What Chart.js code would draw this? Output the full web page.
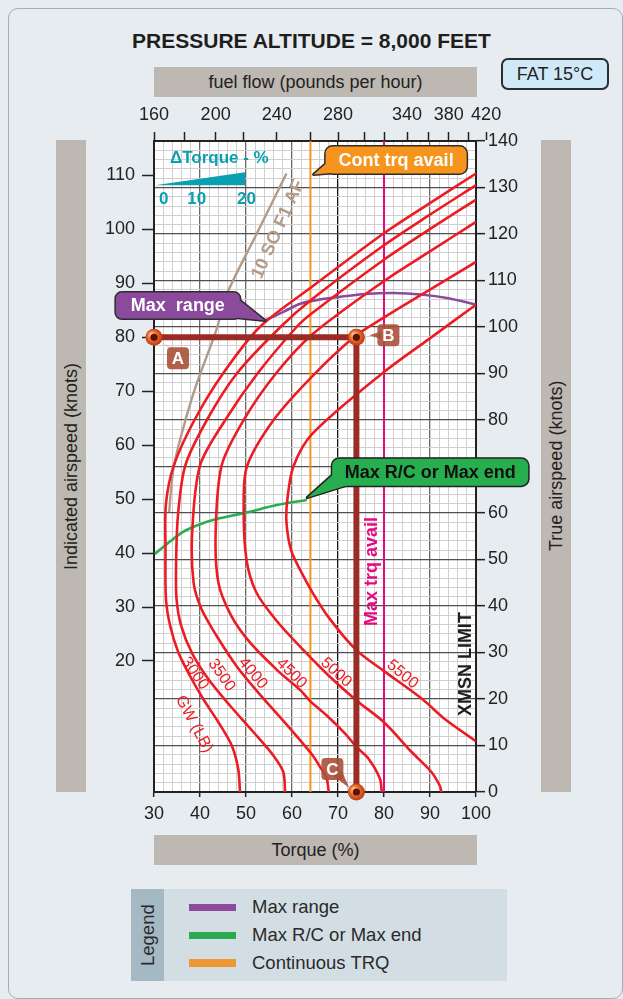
<!DOCTYPE html>
<html>
<head>
<meta charset="utf-8">
<script src="https://cdn.jsdelivr.net/npm/chart.js@4.4.1/dist/chart.umd.min.js"></script>
<style>
  html, body { margin: 0; padding: 0; }
  body { width: 623px; height: 999px; background: #e6ecf0; position: relative; overflow: hidden;
         font-family: "Liberation Sans", Arial, sans-serif; color: #222; }
  .frame { position: absolute; left: 8px; top: 8px; width: 613px; height: 989px; border: 1px solid #a3afb6; border-radius: 10px; }
  .title { position: absolute; left: 0; width: 623px; top: 29px; line-height: 24px; text-align: center; font-weight: bold; font-size: 21px; color: #1e1e1e; }
  .bar { position: absolute; background: #bdb8b1; font-size: 18px; display: flex; align-items: center; justify-content: center; color: #222; }
  .vbar { writing-mode: vertical-rl; transform: rotate(180deg); }
  .fat { position: absolute; left: 501px; top: 58px; width: 108px; height: 32px; box-sizing: border-box; border: 2px solid #2d2d2d;
         border-radius: 7px; background: #cfe9f8; font-size: 18px; display: flex; align-items: center; justify-content: center; }
  .legend { position: absolute; left: 131px; top: 889px; width: 376px; height: 92px; background: #d3dee4; }
  .lg-strip { position: absolute; left: 0; top: 0; width: 33px; height: 92px; background: #a5b9c5; display: flex; align-items: center;
              justify-content: center; writing-mode: vertical-rl; transform: rotate(180deg); font-size: 18.5px; color: #2a2a2a; }
  .lg-item { position: absolute; left: 58px; height: 20px; display: flex; align-items: center; font-size: 18.5px; color: #2a2a2a; }
  .lg-item i { display: inline-block; width: 47px; height: 7px; margin-right: 16px; }
  #chart { position: absolute; left: 0; top: 0; }
</style>
</head>
<body>
<div class="frame"></div>
<div class="title">PRESSURE ALTITUDE = 8,000 FEET</div>
<div class="bar" style="left:154px;top:67px;width:323px;height:30px;">fuel flow (pounds per hour)</div>
<div class="fat">FAT 15°C</div>
<div class="bar vbar" style="left:56px;top:140px;width:30px;height:652px;">Indicated airspeed (knots)</div>
<div class="bar vbar" style="left:541px;top:140px;width:30px;height:652px;">True airspeed (knots)</div>
<div class="bar" style="left:154px;top:835px;width:323px;height:30px;">Torque (%)</div>
<div class="legend">
  <div class="lg-strip">Legend</div>
  <div class="lg-item" style="top:8px"><i style="background:#8b4a9c"></i>Max range</div>
  <div class="lg-item" style="top:36px"><i style="background:#2baa4f"></i>Max R/C or Max end</div>
  <div class="lg-item" style="top:64px"><i style="background:#ee9733;height:8px"></i>Continuous TRQ</div>
</div>
<canvas id="chart" width="623" height="999"></canvas>
<script>
// axes
const torqueRange = [30, 100];
const tasRange = [0, 140];
const iasRange = [-4.3, 116.4];
const iasTicks = [20, 30, 40, 50, 60, 70, 80, 90, 100, 110];
const fuelFlow = [160, 180, 200, 220, 240, 260, 280, 300, 320, 340, 360, 380, 400, 420];
const fuelFlowAtTorque = [30, 36.7, 43.4, 49.5, 56.7, 64.1, 70.0, 75.8, 80.0, 85.0, 89.7, 94.1, 98.3, 102.2];
const fuelFlowLabelled = [160, 200, 240, 280, 340, 380, 420];

// gross weight curves, [torque %, true airspeed kt]
const gw3000 = [[48.7,0],[48.3,5],[46.9,10],[44.0,15],[40.7,20],[37.8,25],[35.3,30],[33.5,35.8],[32.6,41.5],[32.5,52],[32.6,62],
  [34.3,70.2],[38.8,80],[45.0,90],[53.0,100],[64.4,108.7],[79.6,119.9],[89.9,126.6],[100,133]];
const gw3500 = [[58.5,0],[58.1,4.3],[55.9,7.9],[51.6,12.9],[46.5,18.6],[41.8,24.3],[38.2,30],[35.9,35.8],[34.9,41.5],[34.8,48.7],
  [35.2,59.4],[36.8,70.2],[41.5,80],[48.0,90],[57.5,100],[64.4,106],[79.6,117.3],[89.9,124.1],[100,130.5]];
const gw4000 = [[68,0],[67.5,3],[66.1,5.4],[64.4,8],[61.8,11.1],[57.5,16],[53,21],[48,27],[43.6,33.6],[40.3,39.4],[38.6,45.1],
  [38.3,55.8],[40,70.2],[45.5,80],[52.5,90],[61,100],[64.4,103],[79.6,114.2],[89.9,121],[100,127.4]];
const gw4500 = [[79.5,0],[79.1,2.9],[76.6,7.2],[74,9.7],[71.6,12.5],[67.5,16.5],[64,19.5],[61.8,21.9],[57,26],[51,32],[46.8,37.9],
  [44.0,45],[43.4,55.8],[44.7,70.2],[49.5,80],[56.5,90],[64.4,98.4],[79.6,109.6],[89.9,116.2],[100,122.6]];
const gw5000 = [[92.5,0],[92.1,1.4],[90.3,4.3],[86,8.6],[80,15],[74,19.7],[68,25],[62.5,30.5],[56.5,37],[52.2,43],[50.1,50],
  [49.5,60.8],[50.2,70],[56,80],[64.4,89.4],[73.7,98],[79.6,101.8],[89.9,108],[100,114]];
const gw5500 = [[100,10.9],[93.2,15.7],[88.3,20],[80,26],[74,30.5],[68,37.5],[64.4,43],[61.8,47.7],[59.8,52],[58.8,58],
  [59.0,63],[60.3,70],[64.4,77],[79.6,90],[89.9,97.5],[100,104.8]];
const maxRange = [[54.1,101.4],[58,103.2],[61.8,105],[66,105.9],[70.5,106.5],[76,107.1],[82,107.3],[88,107],[94,106.2],[100,104.8]];
const maxRateOfClimb = [[30.2,51.2],[33,53.5],[36.4,56],[40,57.6],[43.6,58.7],[50.1,60.1],[56.7,61.7],[63.2,62.8]];
const soF1 = [[33.3,60.2],[33.7,65],[34.3,70],[36,77],[39,87],[43.6,99.5],[45.8,107],[52.3,120],[58.8,133]];
const contTrq = 64;
const maxTrq = 80;
// example: A -> B -> C
const pathTorque = [30, 74, 74];
const pathIas = [80, 80, -4.3];

const gwLabels = [
  ['3000', 38.9, 25.5, 55], ['3500', 44.7, 25.1, 55], ['4000', 51.5, 25.5, 50],
  ['4500', 59.9, 25.5, 45], ['5000', 69.6, 25.7, 42], ['5500', 84.0, 25.3, 40], ['GW (LB)', 38.7, 14.6, 62]
];

const pts = arr => arr.map(([x, y]) => ({ x, y }));
const line = (data, color, width, order) => ({
  data: pts(data), borderColor: color, borderWidth: width, pointRadius: 0, showLine: true,
  tension: 0.3, xAxisID: 'x', yAxisID: 'yR', order: order
});
const red = '#ec1c24';
const FONT = '"Liberation Sans", Arial, sans-serif';

function rr(ctx, x, y, w, h, r) {
  ctx.beginPath();
  ctx.moveTo(x + r, y);
  ctx.arcTo(x + w, y, x + w, y + h, r);
  ctx.arcTo(x + w, y + h, x, y + h, r);
  ctx.arcTo(x, y + h, x, y, r);
  ctx.arcTo(x, y, x + w, y, r);
  ctx.closePath();
}

function callout(ctx, b, tri, fill, color, text, stroke) {
  ctx.save();
  ctx.lineJoin = 'round';
  if (stroke) {
    ctx.lineWidth = 3; ctx.strokeStyle = stroke;
    rr(ctx, b.x, b.y, b.w, b.h, b.r); ctx.stroke();
  }
  ctx.beginPath(); ctx.moveTo(tri[0][0], tri[0][1]); ctx.lineTo(tri[1][0], tri[1][1]); ctx.lineTo(tri[2][0], tri[2][1]); ctx.closePath();
  if (stroke) ctx.stroke();
  ctx.fillStyle = fill; ctx.fill();
  rr(ctx, b.x, b.y, b.w, b.h, b.r); ctx.fill();
  ctx.fillStyle = color; ctx.font = 'bold ' + (b.fs || 18) + 'px ' + FONT;
  ctx.textAlign = 'center'; ctx.textBaseline = 'middle';
  ctx.fillText(text, b.x + b.w / 2, b.y + b.h / 2 + 1);
  ctx.restore();
}

function rtext(ctx, t, x, y, ang, font, color) {
  ctx.save(); ctx.translate(x, y); ctx.rotate(ang * Math.PI / 180);
  ctx.font = font; ctx.fillStyle = color; ctx.textAlign = 'center'; ctx.textBaseline = 'middle';
  ctx.fillText(t, 0, 0); ctx.restore();
}

function sphere(ctx, x, y) {
  const g = ctx.createRadialGradient(x - 3, y - 3, 1, x, y, 9);
  g.addColorStop(0, '#ffc08a'); g.addColorStop(0.45, '#f06e2c'); g.addColorStop(1, '#b23514');
  ctx.beginPath(); ctx.arc(x, y, 8.5, 0, Math.PI * 2); ctx.fillStyle = g; ctx.fill();
  ctx.beginPath(); ctx.arc(x, y, 3.6, 0, Math.PI * 2); ctx.fillStyle = '#5c1209'; ctx.fill();
}

const decorations = {
  id: 'decorations',
  beforeDraw(chart) {
    const { ctx, chartArea: a } = chart;
    ctx.save(); ctx.fillStyle = '#ffffff'; ctx.fillRect(a.left, a.top, a.right - a.left, a.bottom - a.top); ctx.restore();
  },
  afterDatasetsDraw(chart) {
    const ctx = chart.ctx;
    const X = v => chart.scales.x.getPixelForValue(v);
    const Y = v => chart.scales.yR.getPixelForValue(v);

    gwLabels.forEach(([t, tq, v, ang]) => rtext(ctx, t, X(tq), Y(v), ang, '16px ' + FONT, red));
    rtext(ctx, '10 SO F1 AF', X(57.0), Y(121.0), -66, 'bold 18px ' + FONT, '#b39b88');
    rtext(ctx, 'Max trq avail', X(77.5), Y(47.4), -90, 'bold 18px ' + FONT, '#e5097f');
    rtext(ctx, 'XMSN LIMIT', X(97.9), Y(27.5), -90, 'bold 18px ' + FONT, '#1e1e1e');

    // delta torque inset
    const teal = '#0a9fb1';
    rtext(ctx, '\u0394Torque - %', X(44.2), Y(136.2), 0, 'bold 17px ' + FONT, teal);
    ctx.save(); ctx.fillStyle = teal; ctx.beginPath();
    ctx.moveTo(X(30.2), Y(130.5)); ctx.lineTo(X(49.8), Y(133.3)); ctx.lineTo(X(49.8), Y(130.5)); ctx.closePath(); ctx.fill(); ctx.restore();
    [['0', 32.1], ['10', 39.3], ['20', 50.1]].forEach(([t, tq]) => rtext(ctx, t, X(tq), Y(127.4), 0, 'bold 17px ' + FONT, teal));

    // callouts
    let tx = X(64.7), ty = Y(132.8);
    callout(ctx, { x: tx + 12, y: ty - 28, w: 141, h: 27, r: 7 },
      [[tx + 16, ty - 14], [tx, ty], [tx + 34, ty - 3]], '#f7941d', '#ffffff', 'Cont trq avail', '#2d2d2d');
    tx = X(54.1); ty = Y(101.4);
    callout(ctx, { x: tx - 149, y: ty - 28, w: 124, h: 26, r: 6 },
      [[tx - 30, ty - 24], [tx, ty], [tx - 40, ty - 4]], '#8b4a9c', '#ffffff', 'Max  range', '#2d2d2d');
    tx = X(63.3); ty = Y(63.3);
    callout(ctx, { x: tx + 25, y: ty - 39, w: 196, h: 27, r: 7 },
      [[tx + 29, ty - 26], [tx, ty], [tx + 45, ty - 14]], '#27ae4f', '#111111', 'Max R/C or Max end', '#222222');

    // points A, B, C
    const meta = chart.getDatasetMeta(0).data;
    const tags = [['A', 13, 10, [[15, 8], [-8, -6], [6, 2]]], ['B', 21, -13, [[4, 7], [-8, 11], [4, 15]]], ['C', -35, -34, [[12, 18], [28, 30], [20, 12]]]];
    meta.forEach((p, i) => {
      const [t, dx, dy, tri] = tags[i];
      const bx = p.x + dx, by = p.y + dy;
      sphere(ctx, p.x, p.y);
      callout(ctx, { x: bx, y: by, w: 22, h: 22, r: 4, fs: 17 },
        tri.map(([a, b]) => [bx + a, by + b]), 'rgba(170,80,58,0.9)', '#ffffff', t, null);
    });
  }
};

Chart.defaults.font.family = FONT;
Chart.defaults.font.size = 18;
Chart.defaults.color = '#222';

const isMajor = c => c.tick && c.tick.value % 10 === 0;

new Chart(document.getElementById('chart'), {
  type: 'scatter',
  data: {
    datasets: [
      { data: pathTorque.map((x, i) => ({ x, y: pathIas[i] })), borderColor: '#9b2b25', borderWidth: 6, pointRadius: 0,
        showLine: true, tension: 0, xAxisID: 'x', yAxisID: 'yL', order: 0, borderJoinStyle: 'miter' },
      line(gw3000, red, 2.6, 1), line(gw3500, red, 2.6, 1), line(gw4000, red, 2.6, 1),
      line(gw4500, red, 2.6, 1), line(gw5000, red, 2.6, 1), line(gw5500, red, 2.6, 1),
      line(maxRange, '#8b4a9c', 2.6, 2), line(maxRateOfClimb, '#27ae4f', 2.6, 2),
      line(soF1, '#b39b88', 2.4, 3),
      line([[contTrq, tasRange[0]], [contTrq, tasRange[1]]], '#f7941d', 2, 4),
      line([[maxTrq, tasRange[0]], [maxTrq, tasRange[1]]], '#e5097f', 2, 4)
    ]
  },
  options: {
    responsive: false,
    animation: false,
    devicePixelRatio: 1,
    layout: { padding: { left: 84, right: 77, top: 106, bottom: 172 } },
    plugins: { legend: { display: false }, tooltip: { enabled: false } },
    scales: {
      x: {
        type: 'linear', position: 'bottom', min: torqueRange[0], max: torqueRange[1],
        afterFit: s => { s.height = 35; },
        ticks: { stepSize: 2, autoSkip: false, maxRotation: 0, padding: 6, callback: v => v % 10 === 0 ? v : '' },
        grid: {
          color: c => isMajor(c) ? (c.tick.value === 70 ? '#111' : '#6a6a6a') : '#d0d0d0',
          lineWidth: c => isMajor(c) ? 1.3 : 1,
          tickLength: 5, tickWidth: 1.5,
          tickColor: c => isMajor(c) ? '#222' : 'rgba(0,0,0,0)'
        },
        border: { color: '#222', width: 2 }
      },
      xf: {
        type: 'linear', position: 'top', min: torqueRange[0], max: torqueRange[1],
        afterFit: s => { s.height = 35; },
        afterBuildTicks: s => { s.ticks = fuelFlowAtTorque.map(v => ({ value: v })); },
        ticks: { autoSkip: false, maxRotation: 0, padding: 6,
          callback: (v, i) => fuelFlowLabelled.includes(fuelFlow[i]) ? String(fuelFlow[i]) : '' },
        grid: { drawOnChartArea: false, tickLength: 9, tickColor: '#222', tickWidth: 1.5 },
        border: { color: '#222', width: 2 }
      },
      yL: {
        type: 'linear', position: 'left', min: iasRange[0], max: iasRange[1],
        afterFit: s => { s.width = 70; },
        afterBuildTicks: s => { s.ticks = iasTicks.map(v => ({ value: v })); },
        ticks: { autoSkip: false, padding: 7 },
        grid: { drawOnChartArea: false, tickLength: 12, tickColor: '#222', tickWidth: 1.5 },
        border: { color: '#222', width: 2 }
      },
      yR: {
        type: 'linear', position: 'right', min: tasRange[0], max: tasRange[1],
        afterFit: s => { s.width = 70; },
        ticks: { stepSize: 2, autoSkip: false, padding: 3, callback: v => v % 10 === 0 ? v : '' },
        grid: {
          color: c => isMajor(c) ? '#505050' : '#d0d0d0',
          lineWidth: c => isMajor(c) ? 1.3 : 1,
          tickLength: 9, tickWidth: 1.5,
          tickColor: c => isMajor(c) ? '#222' : 'rgba(0,0,0,0)'
        },
        border: { color: '#222', width: 2 }
      }
    }
  },
  plugins: [decorations]
});
</script>
</body>
</html>
